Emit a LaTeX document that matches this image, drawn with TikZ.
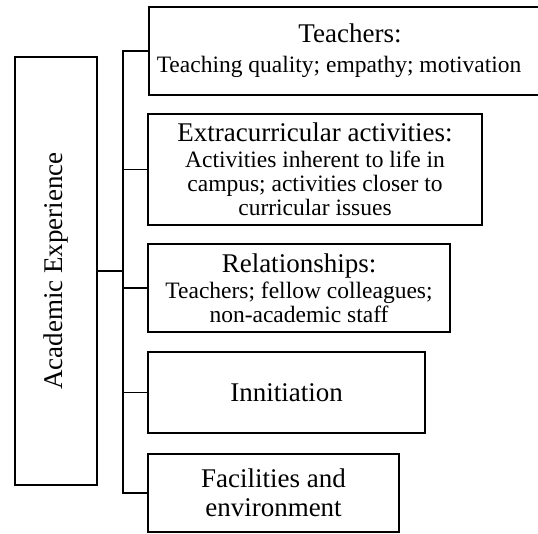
\documentclass[tikz,border=0pt]{standalone}
\usepackage{fontspec}
\setmainfont{Liberation Serif}
\usetikzlibrary{positioning}
\tikzstyle{box} = [draw, rectangle, inner sep=0pt, align=center, font=\fontsize{23.5}{24}\selectfont]
\tikzstyle{bigtext} = [font=\fontsize{27}{29}\selectfont]
\newcommand{\cathead}[1]{{\fontsize{27}{29}\selectfont #1}}

\begin{document}
\begin{tikzpicture}[x=1pt, y=-1pt, line width=1.6pt]
\useasboundingbox (0,0) rectangle (538,534);

% root of the tree
\node [box, minimum width=82pt, minimum height=428pt] (acad) at (56,271) {};
\node [bigtext, rotate=90] (acadlbl) at (acad.center) {Academic Experience};

% categories
\node [box, minimum width=402pt, minimum height=87.5pt] (teach) at (350,51)
  {\cathead{Teachers:}\\[6pt]\hspace*{-22pt}Teaching quality; empathy; motivation};
\node [box, minimum width=334pt, minimum height=111pt] (extra) at (315,169.5)
  {\cathead{Extracurricular activities:}\\[2pt]Activities inherent to life in\\campus; activities closer to\\curricular issues};
\node [box, minimum width=302pt, minimum height=88pt] (rel) at (299,288)
  {\cathead{Relationships:}\\[2pt]Teachers; fellow colleagues;\\non-academic staff};
\node [box, bigtext, minimum width=277pt, minimum height=81pt] (init) at (286.5,392.5) {Innitiation};
\node [box, bigtext, minimum width=251pt, minimum height=78pt] (fac) at (273.5,493) {Facilities and\\environment};

% tree lines
\coordinate (tr) at (123,0);
\draw (teach.west) -| (tr |- fac.west) -- (fac.west);
\foreach \c in {extra, rel, init}
  \draw (\c.west) -- (\c.west -| tr);
\draw [line width=2.4pt] (acad.east) -- (acad.east -| tr);

\end{tikzpicture}
\end{document}
